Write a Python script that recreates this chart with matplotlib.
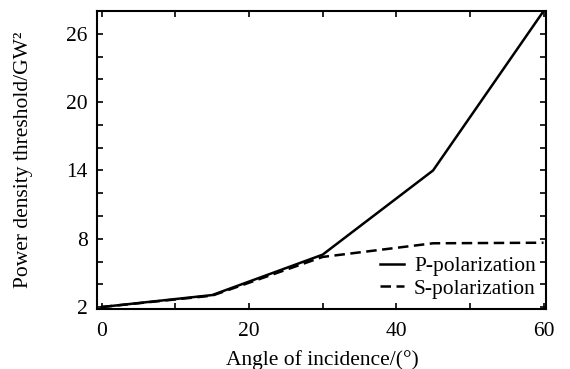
import matplotlib
matplotlib.use("Agg")
import matplotlib.pyplot as plt
from matplotlib.ticker import MultipleLocator

angle = [0, 15, 30, 45, 60]
p_pol = [2.0, 3.05, 6.6, 14.0, 28.0]
s_pol = [2.0, 3.0, 6.4, 7.6, 7.65]

plt.rcParams['font.family'] = ['Liberation Serif', 'DejaVu Serif']
plt.rcParams['font.size'] = 15.5


def main():
    fig = plt.figure(figsize=(5.7, 3.69), dpi=100)
    ax = fig.add_axes([0.1707, 0.1618, 0.788, 0.808])

    ax.plot(angle, p_pol, color='black', lw=1.8, label='P-polarization')
    ax.plot(angle, s_pol, color='black', lw=1.8, dashes=(4.2, 2.2), label='S-polarization')

    ax.set_xlim(-0.6, 60.4)
    ax.set_ylim(1.8, 28)
    ax.set_xticks([0, 20, 40, 60])
    ax.xaxis.set_minor_locator(MultipleLocator(10))
    ax.set_yticks([2, 8, 14, 20, 26])
    ax.yaxis.set_minor_locator(MultipleLocator(2))
    ax.tick_params(which='both', direction='in', top=True, right=True,
                   length=4, width=1.2, labelsize=15.5)
    ax.tick_params(axis='x', pad=9)
    ax.tick_params(axis='y', pad=7)
    for s in ax.spines.values():
        s.set_linewidth(1.5)

    ax.set_xlabel('Angle of incidence/(°)', fontsize=15.5, labelpad=7)
    ax.set_ylabel('Power density threshold/GW²', fontsize=15.5, labelpad=24)

    ax.legend(loc='lower right', frameon=False, handlelength=1.15,
              handletextpad=0.45, labelspacing=0.1, fontsize=15.5,
              borderaxespad=0.1)

    fig.savefig('out.png', dpi=100)


if __name__ == '__main__':
    main()
